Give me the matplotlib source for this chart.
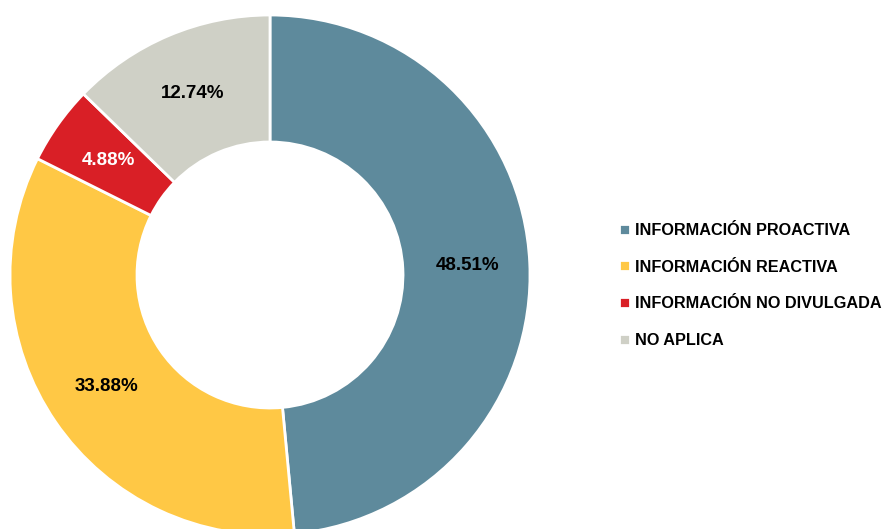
import matplotlib
matplotlib.use('Agg')
import matplotlib.pyplot as plt
from matplotlib import font_manager

categories = ['INFORMACIÓN PROACTIVA', 'INFORMACIÓN REACTIVA',
              'INFORMACIÓN NO DIVULGADA', 'NO APLICA']
values = [48.51, 33.88, 4.88, 12.74]
colors = ['#5e8a9c', '#ffc845', '#d91f26', '#cfd0c6']
label_colors = ['black', 'black', 'white', 'black']

names = {f.name for f in font_manager.fontManager.ttflist}
family = 'Liberation Sans Narrow' if 'Liberation Sans Narrow' in names else 'Liberation Sans'
plt.rcParams['font.family'] = [family, 'DejaVu Sans']

fig = plt.figure(figsize=(8.88, 5.29), dpi=100)
ax = fig.add_axes([0, 0, 1, 1])

wedges, texts, autotexts = ax.pie(
    values, colors=colors, startangle=90, counterclock=False,
    center=(270, 254), radius=260, frame=True,
    autopct='%.2f%%', pctdistance=0.76,
    wedgeprops=dict(width=127, edgecolor='white', linewidth=2),
    textprops=dict(fontsize=13.5, fontweight='bold'))
for t, c in zip(autotexts, label_colors):
    t.set_color(c)
ax.set_xlim(0, 888)
ax.set_ylim(0, 529)
ax.set_aspect('equal')
ax.axis('off')

leg = fig.legend(wedges, categories, loc='upper left',
                 bbox_to_anchor=(619 / 888, 1 - 223 / 529),
                 frameon=False, borderpad=0, borderaxespad=0,
                 handlelength=0.65, handleheight=0.65,
                 handletextpad=0.35, labelspacing=1.33,
                 prop=dict(family=[family, 'DejaVu Sans'], size=11.7, weight='bold'))

fig.savefig('out.png', dpi=100)
